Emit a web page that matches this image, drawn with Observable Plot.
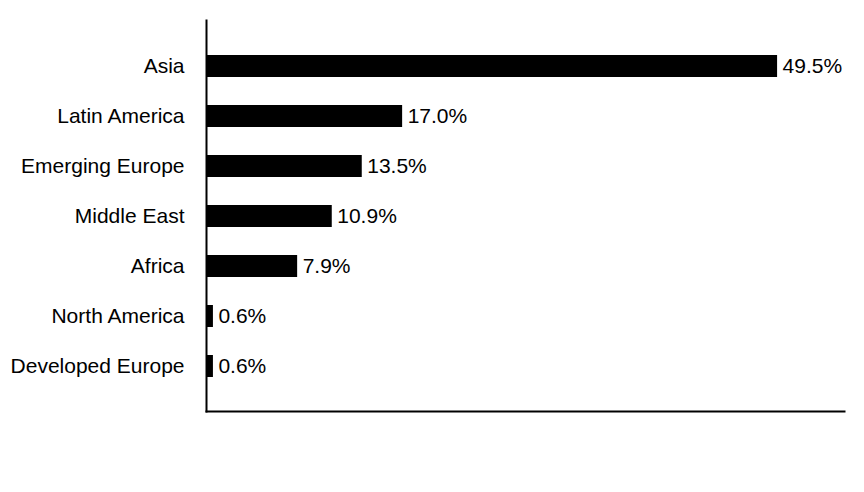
<!DOCTYPE html>
<html>
<head>
<meta charset="utf-8">
<script src="https://cdn.jsdelivr.net/npm/d3@7"></script>
<script src="https://cdn.jsdelivr.net/npm/@observablehq/plot@0.6"></script>
<style>
  html, body { margin: 0; padding: 0; background: #fff; }
  #chart svg { display: block; }
</style>
</head>
<body>
<div id="chart"></div>
<script>
const regions = ["Asia", "Latin America", "Emerging Europe", "Middle East", "Africa", "North America", "Developed Europe"];
const shares = [49.5, 17.0, 13.5, 10.9, 7.9, 0.6, 0.6];
const labels = ["49.5%", "17.0%", "13.5%", "10.9%", "7.9%", "0.6%", "0.6%"];

const data = regions.map((r, i) => ({region: r, value: shares[i], label: labels[i]}));

const chart = Plot.plot({
  width: 864,
  height: 492,
  marginTop: 20,
  marginBottom: 81,
  marginLeft: 206,
  marginRight: 20,
  style: {fontFamily: "'Liberation Sans', Arial, sans-serif", fontSize: "21px", color: "#000", background: "#fff"},
  x: {domain: [0, 55.3], axis: null},
  y: {domain: regions, paddingInner: 0.5625, paddingOuter: 0.669, label: null, tickSize: 0, tickPadding: 22},
  marks: [
    Plot.barX(data, {x: "value", y: "region", fill: "#000"}),
    Plot.text(data, {x: "value", y: "region", text: "label", textAnchor: "start", dx: 5, fill: "#000", fontSize: 21}),
    Plot.axisY({tickSize: 0, tickPadding: 22, fontSize: 21, label: null}),
    Plot.frame({anchor: "left", stroke: "#000", strokeWidth: 2}),
    Plot.frame({anchor: "bottom", stroke: "#000", strokeWidth: 2})
  ]
});
document.getElementById("chart").appendChild(chart);
</script>
</body>
</html>
